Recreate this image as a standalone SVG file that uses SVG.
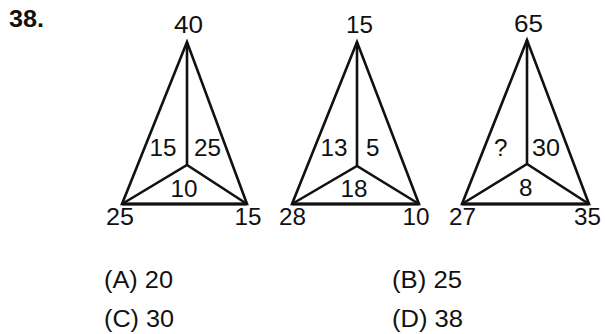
<svg xmlns="http://www.w3.org/2000/svg" width="605" height="334" viewBox="0 0 605 334">
  <style>
    .t { font-family: "Liberation Sans", Arial, sans-serif; font-size: 23px; fill: #111; }
    .b { font-weight: bold; }
    .edge { fill: none; stroke: #111; stroke-width: 2.6; stroke-linejoin: miter; stroke-miterlimit: 10; }
    .base { fill: none; stroke: #111; stroke-width: 3; stroke-linecap: butt; }
  </style>
  <rect width="605" height="334" fill="#fff"/>
  <text class="t b" x="9" y="27" textLength="35" lengthAdjust="spacingAndGlyphs">38.</text>

  <g id="triangle1">
    <polygon class="edge" points="187,42 122,204 247,204"/>
    <line class="base" x1="122" y1="204" x2="247" y2="204"/>
    <polyline class="edge" points="122,204 187,165 247,204"/>
    <line class="edge" x1="187" y1="42" x2="187" y2="165"/>
    <text class="t" x="174" y="33" textLength="29" lengthAdjust="spacingAndGlyphs">40</text>
    <text class="t" x="149.5" y="156" textLength="27" lengthAdjust="spacingAndGlyphs">15</text>
    <text class="t" x="194" y="156" textLength="27" lengthAdjust="spacingAndGlyphs">25</text>
    <text class="t" x="170.5" y="197" textLength="27" lengthAdjust="spacingAndGlyphs">10</text>
    <text class="t" x="106" y="225" textLength="28" lengthAdjust="spacingAndGlyphs">25</text>
    <text class="t" x="234.5" y="225" textLength="27" lengthAdjust="spacingAndGlyphs">15</text>
  </g>

  <g id="triangle2">
    <polygon class="edge" points="357,42 292,204 419,204"/>
    <line class="base" x1="292" y1="204" x2="419" y2="204"/>
    <polyline class="edge" points="292,204 357,166 419,204"/>
    <line class="edge" x1="357" y1="42" x2="357" y2="166"/>
    <text class="t" x="346" y="33" textLength="27" lengthAdjust="spacingAndGlyphs">15</text>
    <text class="t" x="320.5" y="156" textLength="27" lengthAdjust="spacingAndGlyphs">13</text>
    <text class="t" x="366" y="156" textLength="13.5" lengthAdjust="spacingAndGlyphs">5</text>
    <text class="t" x="340.5" y="197" textLength="27" lengthAdjust="spacingAndGlyphs">18</text>
    <text class="t" x="279" y="225" textLength="27" lengthAdjust="spacingAndGlyphs">28</text>
    <text class="t" x="402.5" y="225" textLength="27" lengthAdjust="spacingAndGlyphs">10</text>
  </g>

  <g id="triangle3">
    <polygon class="edge" points="527,40 462,204 589,204"/>
    <line class="base" x1="462" y1="204" x2="589" y2="204"/>
    <polyline class="edge" points="462,204 527,164 589,204"/>
    <line class="edge" x1="527" y1="40" x2="527" y2="164"/>
    <text class="t" x="514" y="32" textLength="29" lengthAdjust="spacingAndGlyphs">65</text>
    <text class="t" x="494" y="156" textLength="13.5" lengthAdjust="spacingAndGlyphs">?</text>
    <text class="t" x="532" y="156" textLength="28" lengthAdjust="spacingAndGlyphs">30</text>
    <text class="t" x="519" y="196" textLength="13.5" lengthAdjust="spacingAndGlyphs">8</text>
    <text class="t" x="449" y="225" textLength="27" lengthAdjust="spacingAndGlyphs">27</text>
    <text class="t" x="574" y="225" textLength="27" lengthAdjust="spacingAndGlyphs">35</text>
  </g>

  <g id="options">
    <text class="t" x="104" y="288" textLength="69" lengthAdjust="spacingAndGlyphs">(A) 20</text>
    <text class="t" x="392" y="288" textLength="70" lengthAdjust="spacingAndGlyphs">(B) 25</text>
    <text class="t" x="104" y="327" textLength="70" lengthAdjust="spacingAndGlyphs">(C) 30</text>
    <text class="t" x="392" y="327" textLength="71" lengthAdjust="spacingAndGlyphs">(D) 38</text>
  </g>
</svg>
